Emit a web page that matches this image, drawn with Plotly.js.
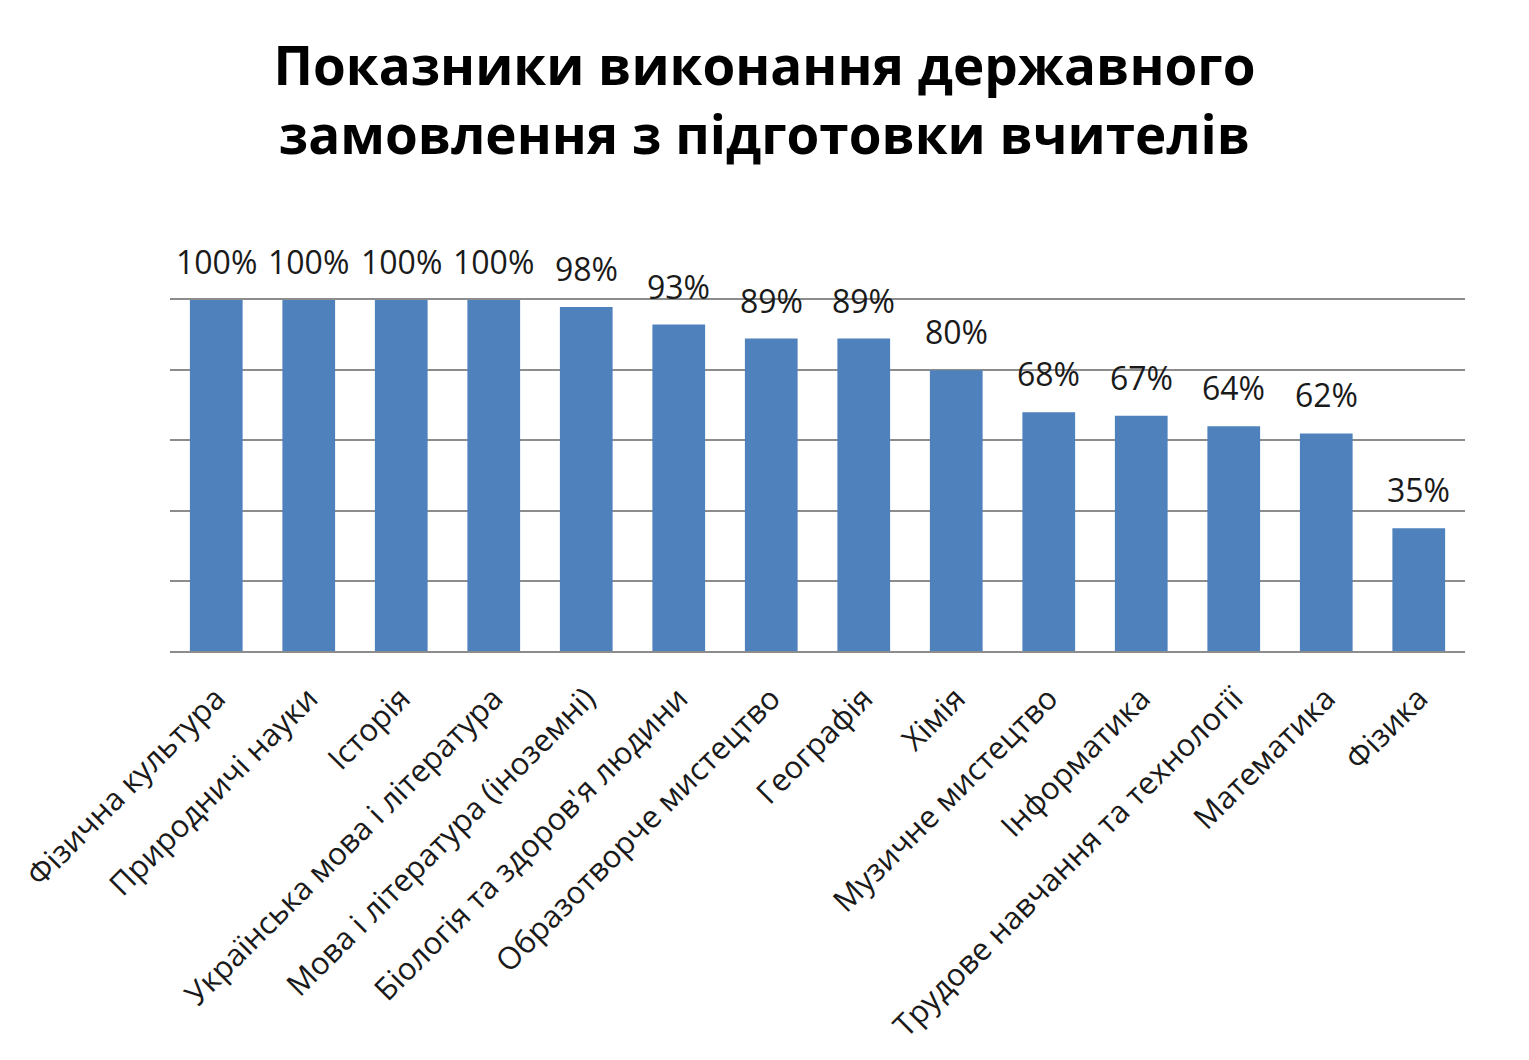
<!DOCTYPE html>
<html>
<head>
<meta charset="utf-8">
<script src="https://cdn.plot.ly/plotly-3.0.1.min.js"></script>
<style>
  html, body { margin: 0; padding: 0; background: #fff; }
  #chart { width: 1529px; height: 1060px; }
</style>
</head>
<body>
<div id="chart"></div>
<script>
// subjects, in the order shown
const subjects = [
  'Фізична культура',
  'Природничі науки',
  'Історія',
  'Українська мова і література',
  'Мова і література (іноземні)',
  "Біологія та здоров'я людини",
  'Образотворче мистецтво',
  'Географія',
  'Хімія',
  'Музичне мистецтво',
  'Інформатика',
  'Трудове навчання та технології',
  'Математика',
  'Фізика'
]

// percent of the state order fulfilled
const percents = [100, 100, 100, 100, 98, 93, 89, 89, 80, 68, 67, 64, 62, 35]

const gridTicks = [0, 20, 40, 60, 80, 100]

const labelFont = 'Open Sans, Liberation Sans, sans-serif'

const annotations = subjects.map((s, i) => ({
  x: s,
  y: percents[i],
  xref: 'x',
  yref: 'y',
  text: percents[i] + '%',
  showarrow: false,
  yanchor: 'bottom',
  yshift: 15,
  font: { family: labelFont, size: 32, color: '#1a1a1a' }
}))

const trace = {
  type: 'bar',
  x: subjects,
  y: percents,
  marker: { color: '#4f81bd' },
  hoverinfo: 'x+y'
}

const layout = {
  width: 1529,
  height: 1060,
  paper_bgcolor: '#ffffff',
  plot_bgcolor: '#ffffff',
  margin: { l: 170, r: 64, t: 300, b: 409 },
  bargap: 0.43,
  showlegend: false,
  title: {
    text: 'Показники виконання державного<br>замовлення з підготовки вчителів',
    x: 0.5,
    xref: 'container',
    xanchor: 'center',
    y: 1 - 85 / 1060,
    yref: 'container',
    yanchor: 'top',
    font: { family: labelFont, size: 53, color: '#000000', weight: 700 }
  },
  xaxis: {
    type: 'category',
    tickangle: -45,
    ticks: '',
    showgrid: false,
    showline: true,
    mirror: true,
    linecolor: '#8c8c8c',
    linewidth: 2,
    ticklabelstandoff: 15,
    tickfont: { family: labelFont, size: 31, color: '#1a1a1a' }
  },
  yaxis: {
    range: [0, 100],
    tickvals: gridTicks,
    showticklabels: false,
    showgrid: true,
    gridcolor: '#8c8c8c',
    gridwidth: 2,
    zeroline: false,
    showline: false,
    ticks: ''
  },
  annotations: annotations
}

Plotly.newPlot('chart', [trace], layout, { displayModeBar: false, staticPlot: true })
</script>
</body>
</html>
